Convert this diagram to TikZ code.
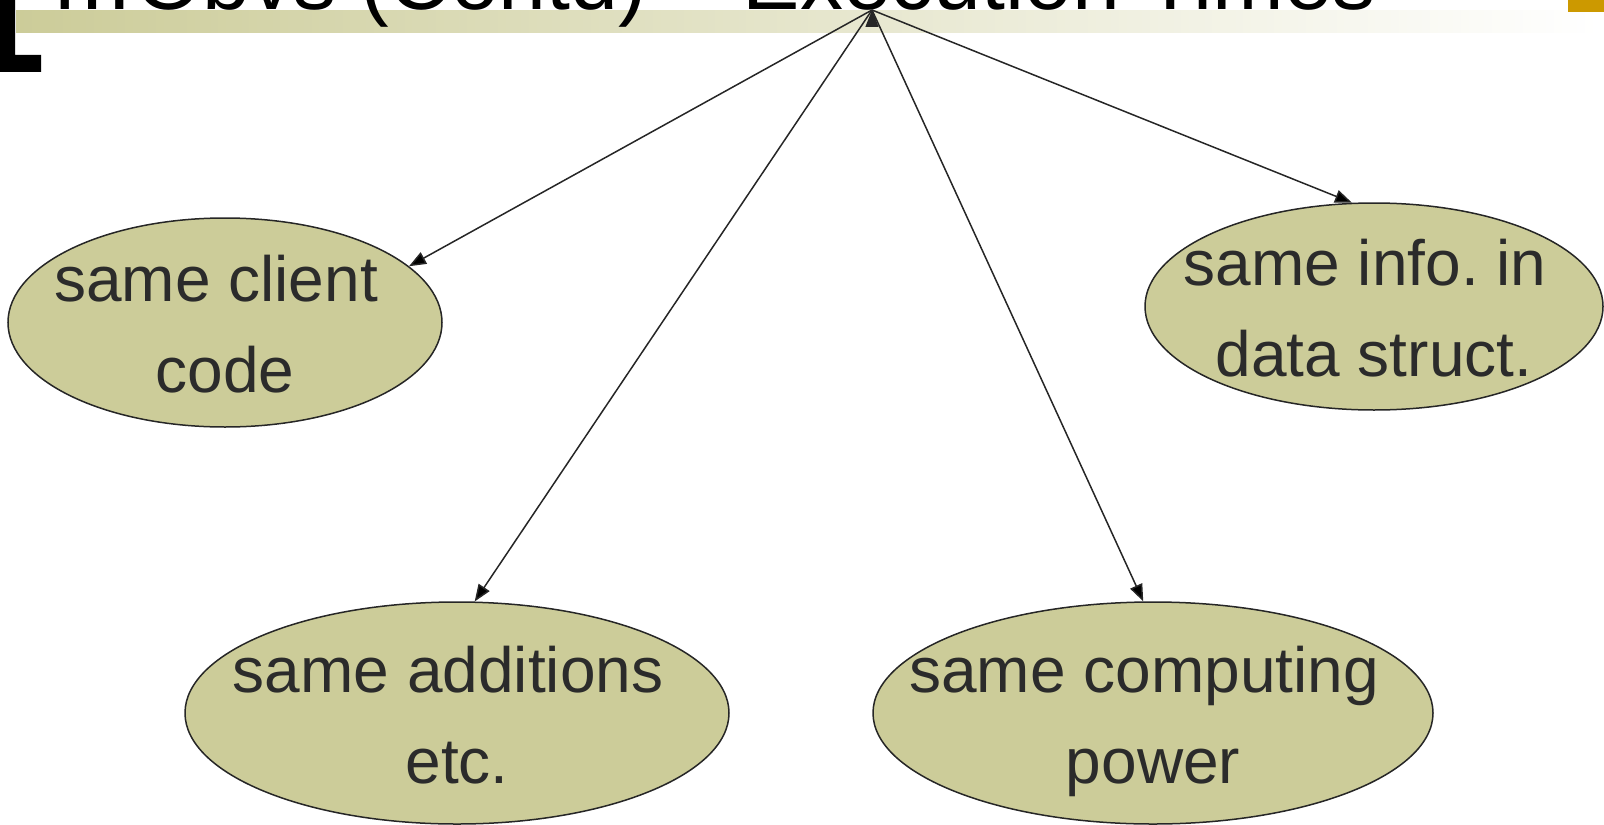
\documentclass[tikz,border=0pt]{standalone}
\usepackage{fontspec}
\setmainfont{Liberation Sans}
\usepackage{xcolor}
\usetikzlibrary{arrows.meta,shapes.geometric}

\definecolor{khaki}{RGB}{204,204,153}
\definecolor{gold}{RGB}{204,153,0}
\definecolor{inkgray}{RGB}{38,38,38}
\definecolor{textgray}{RGB}{43,43,43}
\newcommand{\tsp}{\hbox to 0.278em{}}
\newcommand{\tstrut}{\rule{0pt}{32.5pt}}
\newcommand{\bstrut}{\rule[-8pt]{0pt}{8pt}}

\begin{document}
\begin{tikzpicture}[x=0.5pt,y=-0.5pt,->,>={Triangle[length=8.5pt,width=6.5pt]},line width=0.75pt,
	blob/.style={ellipse,draw=inkgray,fill=khaki,inner sep=0pt},
	lbl/.style={text=textgray,align=center,font=\fontsize{32}{45.5}\selectfont\frenchspacing},
	title/.style={text=black,inner sep=0pt,font=\fontsize{43}{50}\selectfont}]
	\useasboundingbox (0,0) rectangle (1604,824);
	\clip (0,0) rectangle (1604,824);

	% header band
	\shade[left color=khaki,right color=white,draw=none] (16,11) rectangle (1600,33);
	\fill[black] (0,0) -- (15,0) -- (15,55) -- (41,55) -- (41,72) -- (0,72) -- cycle;
	\fill[gold] (1568,0) rectangle (1604,12);
	\node[title,anchor=base west]	(ttl) at (49,10)	{…Obvs (Contd) – Execution Times};

	\coordinate (apex) at (872,10);

	\node[blob,minimum width=217pt,minimum height=104.5pt,label={[lbl]center:{same client\tsp\tstrut\\code\bstrut}}]				(client) at (225,322.5)	{};
	\node[blob,minimum width=229pt,minimum height=103.5pt,label={[lbl]center:{same info. in\tsp\tstrut\\data struct.\bstrut}}]		(info) at (1374,306.5)	{};
	\node[blob,minimum width=272pt,minimum height=111pt,label={[lbl]center:{same additions\tsp\tstrut\\etc.\bstrut}}]			(add) at (457,713)		{};
	\node[blob,minimum width=280pt,minimum height=111pt,label={[lbl]center:{same computing\tsp\tstrut\\power\bstrut}}]			(comp) at (1153,713)	{};

	\path[draw=inkgray]	(apex)	edge	(client.17.5)
						edge	(add.81)
						edge	(comp.95)
						edge	(info.102);
\end{tikzpicture}
\end{document}
